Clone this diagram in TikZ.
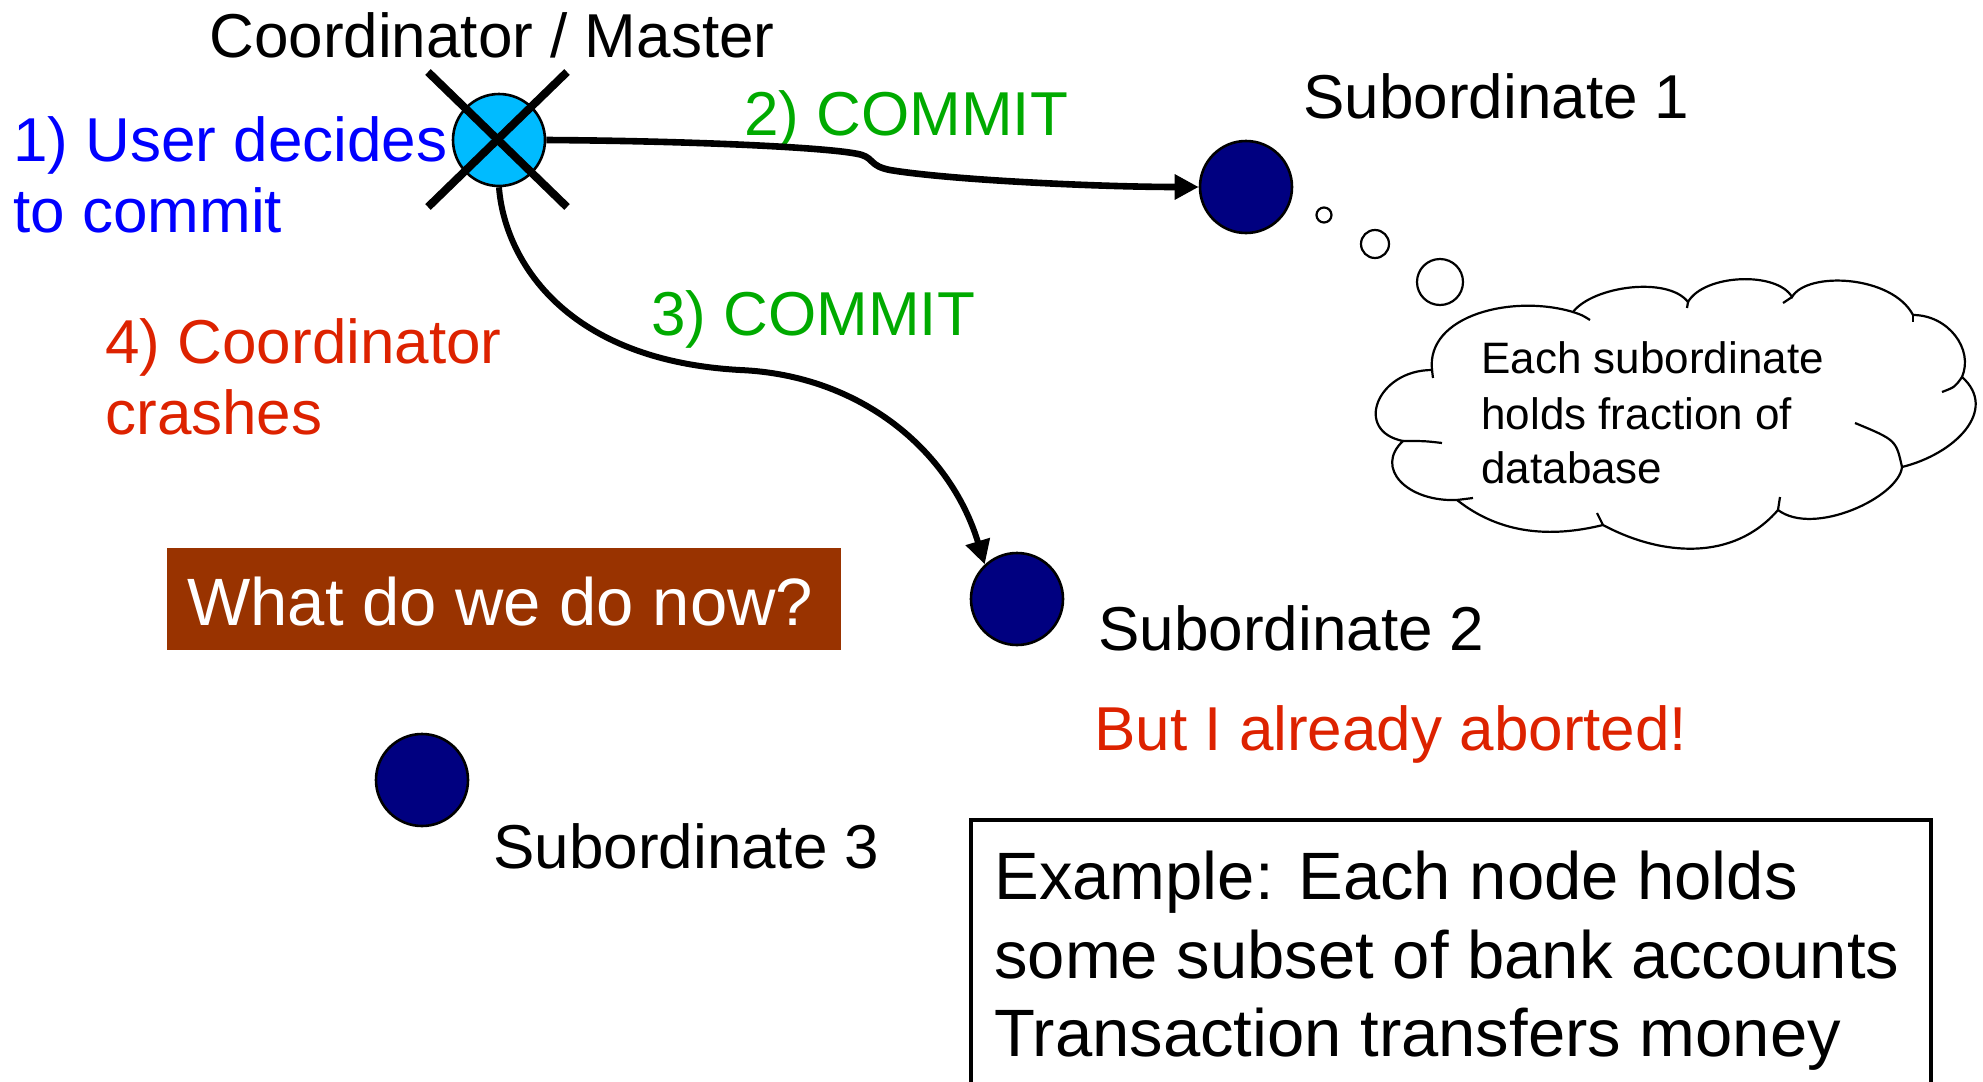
\documentclass[tikz,border=0pt]{standalone}
\usepackage{fontspec}
\setmainfont{Liberation Sans}
\usetikzlibrary{arrows.meta}
\definecolor{cblue}{RGB}{0,0,255}
\definecolor{cgreen}{RGB}{0,170,0}
\definecolor{cred}{RGB}{221,34,0}
\definecolor{cnavy}{RGB}{0,0,128}
\definecolor{ccyan}{RGB}{0,187,255}
\definecolor{cbrown}{RGB}{153,51,0}
\tikzset{
  lbl/.style={anchor=base west, inner sep=0pt, font=\fontsize{31}{37}\selectfont},
  big/.style={anchor=base west, inner sep=0pt, font=\fontsize{33.5}{39}\selectfont},
  small/.style={anchor=base west, inner sep=0pt, font=\fontsize{22}{27}\selectfont},
  sub/.style={circle, draw=black, line width=1.3pt, fill=cnavy, minimum size=46pt, inner sep=0pt},
  bub/.style={circle, draw=black, line width=1.1pt, fill=white, inner sep=0pt},
  cloudline/.style={draw=black, line width=1.1pt},
  msg/.style={line width=#1, -{Triangle[length=12pt,width=12pt]}},
}
\begin{document}
\begin{tikzpicture}[x=0.5pt,y=-0.5pt]
\useasboundingbox (0,0) rectangle (1983,1082);
% nodes
\node[circle, draw=black, line width=1.3pt, fill=ccyan, minimum size=46pt, inner sep=0pt] (coord) at (499,140) {};
\coordinate (x1) at (428,72); \coordinate (x2) at (567,207);
\coordinate (x3) at (567,72); \coordinate (x4) at (428,207);
\draw[line width=4pt] (x1) -- (x2);
\draw[line width=4pt] (x3) -- (x4);
\node[sub] (sub1) at (1246,187) {};
\node[sub] (sub2) at (1017,599) {};
\node[sub] (sub3) at (422,780) {};
% texts
\node[lbl] (tcoord) at (209,57) {Coordinator / Master};
\node[lbl, text=cblue] (t1a) at (13,161) {1) User decides};
\node[lbl, text=cblue] (t1b) at (13,232) {to commit};
\node[lbl, text=cgreen] (t2) at (744,135) {2) COMMIT};
\node[lbl, text=cgreen] (t3) at (651,335) {3) COMMIT};
\node[lbl, text=cred] (t4a) at (105,363) {4) Coordinator};
\node[lbl, text=cred] (t4b) at (105,434) {crashes};
\node[lbl] (ts1) at (1303,118) {Subordinate 1};
\node[lbl] (ts2) at (1098,650) {Subordinate 2};
\node[lbl, text=cred] (tab) at (1094,750) {But I already aborted!};
\node[lbl] (ts3) at (493,868) {Subordinate 3};
% brown box
\fill[cbrown] (167,548) rectangle (841,650);
\node[big, text=white] (what) at (187,625) {What do we do now?};
% bottom box
\draw[line width=2pt] (971,820) rectangle (1931,1100);
\node[big] (ex1) at (994,899) {Example: Each node holds};
\node[big] (ex2) at (994,978) {some subset of bank accounts};
\node[big] (ex3) at (994,1056) {Transaction transfers money};
% cloud
\path[cloudline, fill=white]
  (1432,370) .. controls (1426,315) and (1513,294) .. (1573,312)
  .. controls (1593,286) and (1668,276) .. (1688,302)
  .. controls (1704,274) and (1777,271) .. (1792,297)
  .. controls (1807,271) and (1892,275) .. (1913,315)
  .. controls (1948,315) and (1974,349) .. (1962,377)
  .. controls (1999,410) and (1955,454) .. (1902,467)
  .. controls (1899,497) and (1814,537) .. (1778,510)
  .. controls (1733,562) and (1661,556) .. (1603,525)
  .. controls (1550,538) and (1500,534) .. (1457,500)
  .. controls (1407,502) and (1374,468) .. (1403,441)
  .. controls (1353,431) and (1377,370) .. (1432,370) -- cycle;
\draw[cloudline] (1432,370) -- (1433,378);
\draw[cloudline] (1573,312) .. controls (1582,315) .. (1590,320);
\draw[cloudline] (1688,302) -- (1687,308);
\draw[cloudline] (1792,297) -- (1783,303);
\draw[cloudline] (1913,315) -- (1913,322);
\draw[cloudline] (1962,377) .. controls (1955,387) .. (1942,392);
\draw[cloudline] (1902,467) .. controls (1896,440) .. (1855,423);
\draw[cloudline] (1778,510) -- (1780,497);
\draw[cloudline] (1603,525) -- (1597,513);
\draw[cloudline] (1457,500) -- (1473,498);
\draw[cloudline] (1403,441) .. controls (1425,441) .. (1442,443);
\node[small] (c1) at (1481,373) {Each subordinate};
\node[small] (c2) at (1481,429) {holds fraction of};
\node[small] (c3) at (1481,483) {database};
\node[bub, minimum size=7.5pt] (b1) at (1324,215) {};
\node[bub, minimum size=14pt] (b2) at (1375,244) {};
\node[bub, minimum size=23pt] (b3) at (1440,282) {};
% connectors
\draw[msg=3.3pt] (coord.east) .. controls (700,141) and (840,148) .. (862,155)
  .. controls (874,159) and (870,166) .. (890,170)
  .. controls (950,180) and (1100,187) .. (sub1.west);
\draw[msg=3pt] (coord.south) .. controls (504,255) and (560,360) .. (740,370)
  .. controls (860,375) and (950,450) .. (sub2.133);
\end{tikzpicture}
\end{document}
